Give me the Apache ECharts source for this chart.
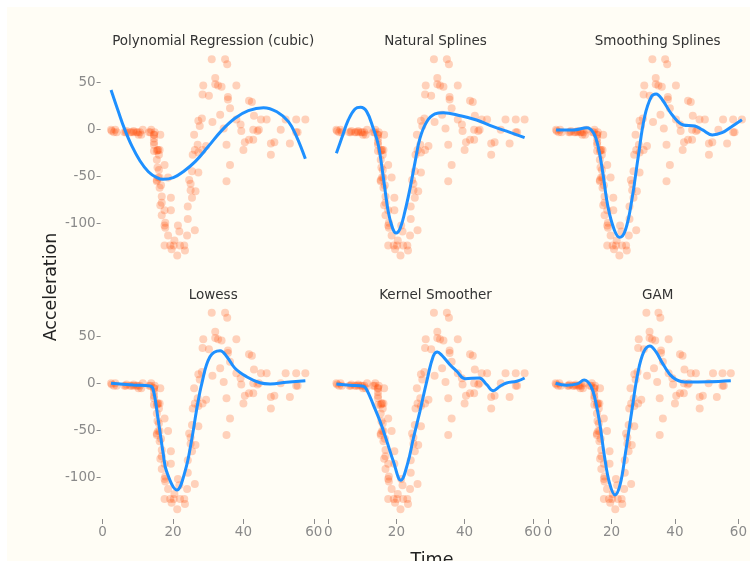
<!DOCTYPE html>
<html>
<head>
<meta charset="utf-8">
<script src="https://cdn.jsdelivr.net/npm/echarts@6/dist/echarts.min.js"></script>
<style>html,body{margin:0;padding:0;background:#fff}#c{width:750px;height:565px}</style>
</head>
<body>
<div id="c"></div>
<script>
// ---- data (mcycle: time vs acceleration) ----
const times = [2.4,2.6,3.2,3.6,4.0,6.2,6.6,6.8,7.8,8.2,8.8,8.8,9.6,10.0,10.2,10.6,11.0,11.4,13.2,13.6,13.8,14.6,14.6,14.6,14.6,14.6,14.6,14.8,15.4,15.4,15.4,15.4,15.6,15.6,15.8,15.8,16.0,16.0,16.2,16.2,16.2,16.4,16.4,16.6,16.8,16.8,16.8,17.6,17.6,17.6,17.6,17.8,17.8,18.6,18.6,19.2,19.4,19.4,19.6,20.2,20.4,21.2,21.4,21.8,22.0,23.2,23.4,24.0,24.2,24.2,24.6,25.0,25.0,25.4,25.4,25.6,26.0,26.2,26.2,26.4,27.0,27.2,27.2,27.2,27.6,28.2,28.4,28.4,28.6,29.4,30.2,31.0,31.2,32.0,32.0,32.8,33.4,33.8,34.4,34.8,35.2,35.2,35.4,35.6,35.6,36.2,36.2,38.0,38.0,39.2,39.4,40.0,40.4,41.6,41.6,42.4,42.8,42.8,43.0,44.0,44.4,45.0,46.6,47.8,47.8,48.8,50.6,52.0,53.2,55.0,55.0,55.4,57.6];
const accel = [0.0,-1.3,-2.7,0.0,-2.7,-2.7,-2.7,-1.3,-2.7,-2.7,-1.3,-2.7,-2.7,-2.7,-5.4,-2.7,-5.4,0.0,-2.7,-2.7,0.0,-13.3,-5.4,-5.4,-9.3,-16.0,-22.8,-2.7,-22.8,-32.1,-53.5,-54.9,-40.2,-21.5,-21.5,-50.8,-42.9,-26.8,-21.5,-50.8,-61.7,-5.4,-80.4,-59.0,-71.0,-91.1,-77.7,-37.5,-85.6,-123.1,-101.9,-99.1,-104.4,-112.5,-50.8,-123.1,-85.6,-72.3,-127.2,-123.1,-117.9,-134.0,-101.9,-108.4,-123.1,-123.1,-128.5,-112.5,-95.1,-81.8,-53.5,-64.4,-57.6,-72.3,-44.3,-26.8,-5.4,-107.1,-21.5,-65.6,-16.0,-45.6,-24.2,9.5,4.0,12.0,-21.5,37.5,46.9,-17.4,36.2,75.0,8.1,54.9,48.2,46.9,16.0,45.6,1.3,75.0,-16.0,-54.9,69.6,34.8,32.1,-37.5,22.8,46.9,10.7,5.4,-1.3,-21.5,-13.3,30.8,-10.7,29.4,0.0,-10.7,14.7,-1.3,0.0,10.7,10.7,-26.8,-14.7,-13.3,0.0,10.7,-14.7,-2.7,10.7,-2.7,10.7];

// fitted curves
const cubicT = [2.4,4.5,6.2,8.3,10.6,13.0,15.4,17.2,20.1,22.9,26.3,30.0,33.8,37.6,41.4,45.7,49.5,52.8,55.1,57.6];
const cubicV = [42.2,19.1,1.1,-17.3,-33.0,-44.7,-51.0,-52.8,-51.0,-44.7,-34.0,-18.0,-1.0,12.1,20.2,23.4,19.1,8.5,-7.4,-31.0];

const nsT = [2.4,3.95,5.9,7.86,9.5,11.3,13.2,14.7,16.2,17.6,18.9,19.9,21.1,22.5,24.0,25.5,26.9,28.9,31.3,33.8,38.7,43.5,48.4,53.3,57.6];
const nsV = [-25.1,-9.2,10.3,22.0,23.8,19.2,1.5,-16.3,-51.7,-87.0,-105.0,-110.0,-105.0,-87.0,-62.4,-34.0,-9.2,8.5,16.7,18.1,14.9,10.3,3.2,-2.8,-8.5];

const ssT = [2.4,7.7,11.5,13.5,14.9,16.3,17.8,19.7,21.3,23.0,24.9,26.8,28.7,30.7,32.1,34.0,36.9,40.2,43.6,45.9,48.8,51.7,54.5,57.6];
const ssV = [-0.3,-0.3,2.1,-3.2,-18.0,-46.4,-81.9,-106.7,-114.5,-106.7,-74.8,-28.7,13.8,35.1,38.0,31.6,15.6,5.0,3.9,-0.3,-5.6,-3.2,3.2,10.5];

const lowessT = [2.4,8.7,13.5,14.4,15.8,17.2,18.2,21.1,23.4,25.3,26.7,28.2,30.5,33.4,35.3,37.6,40.9,44.7,47.6,52.3,57.6];
const lowessV = [0.0,-1.8,-2.9,-7.1,-39.0,-74.5,-94.0,-113.5,-94.0,-60.3,-28.4,0.0,28.3,34.7,28.3,16.0,7.0,0.6,-0.7,1.1,2.8];

const kernelT = [2.4,6.4,10.3,11.3,13.2,15.2,17.2,19.1,21.3,23.2,25.0,26.9,28.9,30.8,32.0,33.3,35.7,37.7,40.1,44.3,46.5,48.4,50.4,52.3,55.3,57.6];
const kernelV = [-0.7,-2.1,-3.2,-6.8,-22.7,-40.4,-61.7,-83.0,-103.2,-86.6,-58.2,-29.8,2.1,28.7,33.3,29.8,19.8,12.8,4.9,5.6,-1.5,-7.9,-3.2,0.3,2.1,5.6];

const gamT = [2.4,5.8,9.2,11.4,13.5,14.9,16.3,17.8,19.4,21.1,22.7,24.4,26.3,28.3,30.2,32.1,34.0,36.4,39.3,43.1,50.7,57.6];
const gamV = [0.0,-2.1,-0.7,3.5,-2.9,-17.8,-42.6,-78.0,-106.4,-118.8,-108.2,-74.5,-31.9,10.6,33.6,39.7,33.6,19.5,6.4,1.4,1.7,2.8];

const panelTitles = ['Polynomial Regression (cubic)','Natural Splines','Smoothing Splines','Lowess','Kernel Smoother','GAM'];
const xTicks = [0,20,40,60];
const yTicks = [-100,-50,0,50];
const xAxisTitle = 'Time';
const yAxisTitle = 'Acceleration';

// ---- layout ----
const colLeft = [102.6, 328.2, 548];
const colWidth = [211.2, 204.6, 209.4];
const rowTop = [47.9, 301.5];
const rowHeight = 217.5;
const yMin = -144.4, yMax = 87;
const font = 'DejaVu Sans';

const curves = [[cubicT,cubicV],[nsT,nsV],[ssT,ssV],[lowessT,lowessV],[kernelT,kernelV],[gamT,gamV]];
const scatterData = times.map((t,i)=>[t,accel[i]]);

const grids=[], xAxes=[], yAxes=[], series=[], titles=[];
for (let p=0;p<6;p++){
  const r = Math.floor(p/3), c = p%3;
  grids.push({left:colLeft[c], top:rowTop[r], width:colWidth[c], height:rowHeight});
  xAxes.push({
    type:'value', gridIndex:p, min:0, max:60, show: r===1, position:'bottom',
    axisLine:{show:false, onZero:false}, splitLine:{show:false},
    axisTick:{show:true, length:5, lineStyle:{color:'#8c8c8c', width:1}, customValues:xTicks},
    axisLabel:{show:true, customValues:xTicks, color:'#8a8a8a', fontFamily:font, fontSize:13.5, margin:6}
  });
  yAxes.push({
    type:'value', gridIndex:p, min:yMin, max:yMax, show: c===0, offset:2,
    axisLine:{show:false, onZero:false}, splitLine:{show:false},
    axisTick:{show:true, length:4, lineStyle:{color:'#8c8c8c', width:1}, customValues:yTicks},
    axisLabel:{show:true, customValues:yTicks, color:'#8a8a8a', fontFamily:font, fontSize:13.5, margin:5}
  });
  series.push({
    type:'scatter', xAxisIndex:p, yAxisIndex:p, data:scatterData, symbolSize:8,
    itemStyle:{color:'#FF4500', opacity:0.24}, silent:true, z:2
  });
  const [ct,cv] = curves[p];
  series.push({
    type:'line', xAxisIndex:p, yAxisIndex:p, data:ct.map((t,i)=>[t,cv[i]]),
    showSymbol:false, smooth:0.4, lineStyle:{color:'#1E90FF', width:3}, silent:true, z:3
  });
  titles.push({
    text:panelTitles[p], left:colLeft[c]+colWidth[c]/2, top: r===0 ? 29 : 283, textAlign:'center',
    textStyle:{fontFamily:font, fontSize:13.5, fontWeight:'normal', color:'#333'}
  });
}

const chart = echarts.init(document.getElementById('c'), null, {renderer:'canvas'});
chart.setOption({
  backgroundColor:'#fffdf5',
  animation:false,
  title:titles,
  grid:grids, xAxis:xAxes, yAxis:yAxes, series:series,
  graphic:[
    {type:'text', x:51.5, y:287, rotation:Math.PI/2,
      style:{text:yAxisTitle, fontFamily:font, fontSize:17.5, fill:'#222', textAlign:'center', textVerticalAlign:'middle'}},
    {type:'text', x:432, y:560, style:{text:xAxisTitle, fontFamily:font, fontSize:17.5, fill:'#222', textAlign:'center', textVerticalAlign:'middle'}},
    {type:'rect', shape:{x:0,y:0,width:750,height:7}, style:{fill:'#ffffff'}, z:100},
    {type:'rect', shape:{x:0,y:0,width:7,height:565}, style:{fill:'#ffffff'}, z:100},
    {type:'rect', shape:{x:0,y:561,width:750,height:4}, style:{fill:'#ffffff'}, z:100}
  ]
});
</script>
</body>
</html>
